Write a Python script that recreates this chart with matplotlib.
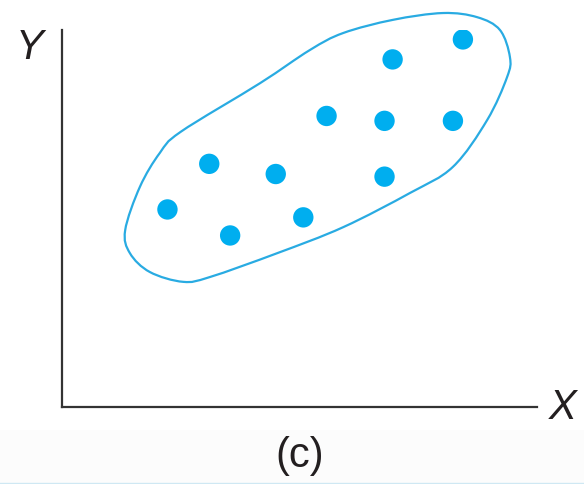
import numpy as np
import matplotlib
matplotlib.use("Agg")
import matplotlib.pyplot as plt
from matplotlib.path import Path
from matplotlib.patches import PathPatch, Rectangle

# scatter points (arbitrary units, axes run 0..100)
x_vals = [84.4, 69.6, 55.7, 67.9, 82.3, 31.0, 45.0, 67.9, 22.2, 50.8, 35.4]
y_vals = [97.5, 92.2, 77.2, 75.9, 75.9, 64.5, 61.8, 61.1, 52.4, 50.3, 45.5]

# outline drawn around the cloud of points
blob_x = [13.3, 16.4, 20.6, 25.0, 41.7, 52.2, 59.2, 69.7, 80.2, 87.4, 92.2,
          94.3, 93.7, 89.5, 82.3, 73.3, 59.2, 45.3, 31.2, 25.5, 18.5, 14.3]
blob_y = [46.9, 58.4, 67.4, 73.0, 85.9, 94.7, 99.2, 102.7, 104.5, 103.4, 100.0,
          92.8, 87.5, 76.1, 63.7, 56.8, 47.7, 40.8, 34.5, 33.2, 35.8, 40.8]

blue = '#00aeef'
ink = '#231f20'

fig = plt.figure(figsize=(5.84, 4.84), dpi=100)
fig.patch.set_facecolor('white')

# faint caption band at the bottom
fig.patches.append(Rectangle((0, 0), 1, 54 / 484, transform=fig.transFigure,
                             facecolor='#fcfcfc', edgecolor='none', zorder=0))
fig.lines.append(plt.Line2D([0, 1], [1.5 / 484, 1.5 / 484], transform=fig.transFigure,
                            color='#cfe8f3', lw=1))

ax = fig.add_axes([62 / 584, 77 / 484, 475 / 584, 377 / 484])
ax.set_xlim(0, 100)
ax.set_ylim(0, 100)
ax.patch.set_alpha(0)
for s in ['top', 'right']:
    ax.spines[s].set_visible(False)
for s in ['left', 'bottom']:
    ax.spines[s].set_color('#333333')
    ax.spines[s].set_linewidth(1.6)
ax.set_xticks([])
ax.set_yticks([])

# closed smooth outline: catmull-rom segments as cubic beziers
pts = np.column_stack([blob_x, blob_y])
n = len(pts)
verts = [pts[0]]
codes = [Path.MOVETO]
for i in range(n):
    p0, p1, p2, p3 = pts[i - 1], pts[i], pts[(i + 1) % n], pts[(i + 2) % n]
    verts += [p1 + (p2 - p0) / 6, p2 - (p3 - p1) / 6, p2]
    codes += [Path.CURVE4] * 3
ax.add_patch(PathPatch(Path(verts, codes), facecolor='none', edgecolor='#29abe2',
                       lw=1.6, clip_on=False))

ax.scatter(x_vals, y_vals, s=215, color=blue, edgecolors='none', zorder=3)

fig.text(30 / 584, 1 - 48 / 484, 'Y', fontsize=30, style='italic', color=ink,
         family='Liberation Sans', ha='center', va='center')
fig.text(563 / 584, 1 - 408 / 484, 'X', fontsize=30, style='italic', color=ink,
         family='Liberation Sans', ha='center', va='center')
fig.text(300 / 584, 1 - 456 / 484, '(c)', fontsize=30, color=ink,
         family='Liberation Sans', ha='center', va='center')

fig.savefig('out.png', dpi=100)
